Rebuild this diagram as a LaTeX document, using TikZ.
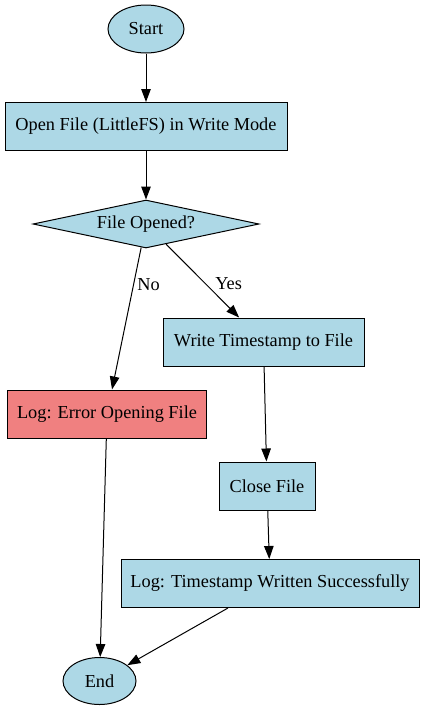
\documentclass[tikz,border=0pt]{standalone}
\usepackage{fontspec}
\setmainfont{Liberation Serif}
\usetikzlibrary{arrows.meta, shapes.geometric, positioning}
\definecolor{lightblue}{HTML}{ADD8E6}
\definecolor{lightcoral}{HTML}{F08080}
\tikzset{
	font = {\fontsize{18.3pt}{22pt}\selectfont},
	term/.style = {ellipse, draw = black, line width = 1pt, fill = lightblue, minimum width = 76pt, minimum height = 48pt, inner sep = 0pt},
	proc/.style = {rectangle, draw = black, line width = 1pt, fill = lightblue, minimum height = 48pt, inner sep = 0pt, text centered},
	errbox/.style = {proc, fill = lightcoral},
	decision/.style = {diamond, draw = black, line width = 1pt, fill = lightblue, aspect = 4.7, minimum width = 226pt, minimum height = 48pt, inner sep = 0pt, text centered},
	arrow/.style = {-{Triangle[length = 13pt, width = 9.5pt]}, draw = black, line width = 1pt}
}
\begin{document}
\begin{tikzpicture}[node distance = 97.5pt]
	\useasboundingbox (0pt,0pt) rectangle (424pt,-710pt);
	
	%%%%%%%% main chain %%%%%%%%
	\node (start) [term] at (146pt,-29pt) {Start};
	\node (open) [proc, minimum width = 282pt, below of = start] {Open File (LittleFS) in Write Mode};
	\node (opened) [decision, below of = open] {File Opened?};
	
	%% yes branch
	\node (write) [proc, minimum width = 201pt, below of = opened, xshift = 117.5pt, yshift = -20.5pt] {Write Timestamp to File};
	\node (close) [proc, minimum width = 96pt, below of = write, xshift = 3.5pt, yshift = -46.5pt] {Close File};
	\node (logok) [proc, minimum width = 298pt, below of = close, xshift = 3pt] {Log: Timestamp Written Successfully};
	
	%% no branch
	\node (logerr) [errbox, minimum width = 199pt, below of = opened, xshift = -39pt, yshift = -92.5pt] {Log: Error Opening File};
	
	% end
	\node (end) [term, minimum width = 73pt, minimum height = 47pt, below of = logok, xshift = -170.5pt] {End};
	
	%%% arrows %%%
	\draw [arrow] (start) -- (open);
	\draw [arrow] (open) -- (opened);
	\draw [arrow] (opened) -- node (lblno) [pos = 0.26, anchor = west, xshift = 0pt] {No} (logerr);
	\draw [arrow] (opened) -- node (lblyes) [pos = 0.54, anchor = west, xshift = 6pt] {Yes} (write);
	\draw [arrow] (write) -- (close);
	\draw [arrow] (close) -- (logok);
	\draw [arrow] (logerr) -- (end);
	\draw [arrow] ([xshift = -42pt]logok.south) -- (end);
\end{tikzpicture}
\end{document}
